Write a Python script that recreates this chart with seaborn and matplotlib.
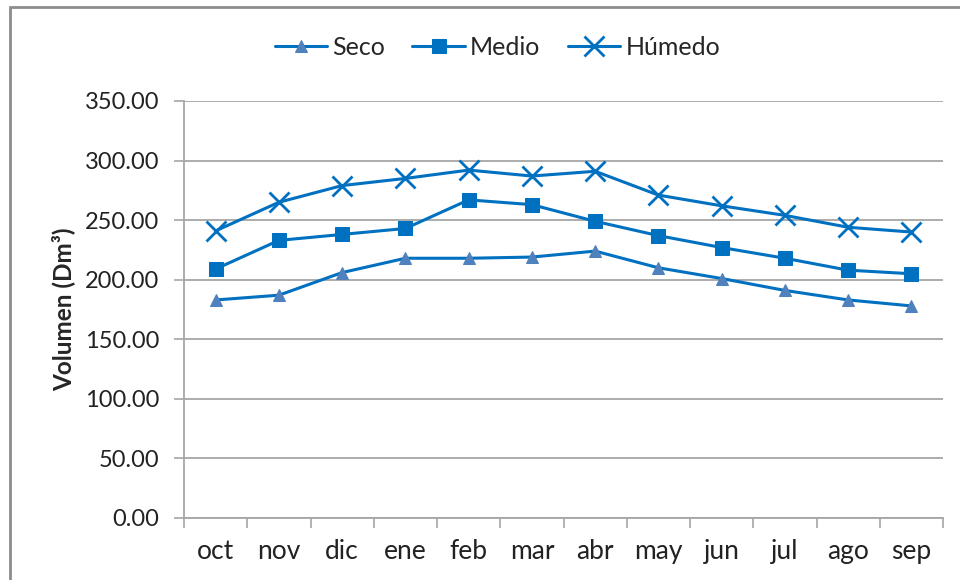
import pandas as pd
import matplotlib.pyplot as plt
import seaborn as sns
from matplotlib.patches import Rectangle
from matplotlib.ticker import FixedLocator

# Monthly volume by hydrological year type
months = ["oct", "nov", "dic", "ene", "feb", "mar", "abr", "may", "jun", "jul", "ago", "sep"]
seco = [183, 187, 206, 218, 218, 219, 224, 210, 201, 191, 183, 178]
medio = [209, 233, 238, 243, 267, 263, 249, 237, 227, 218, 208, 205]
humedo = [241, 265, 279, 285, 292, 287, 291, 271, 262, 254, 244, 240]

df = pd.DataFrame({"mes": months, "Seco": seco, "Medio": medio, "Húmedo": humedo})

sns.set_style("white")
plt.rcParams["font.family"] = ["Lato", "DejaVu Sans"]

fig = plt.figure(figsize=(9.6, 5.8), dpi=100)
ax = fig.add_axes([0.1917, 0.1069, 0.7906, 0.719])

line_color = "#0070C0"
styles = {
    "Seco": dict(marker="^", markersize=8, markerfacecolor="#4F81BD", markeredgecolor="#4F81BD"),
    "Medio": dict(marker="s", markersize=10, markerfacecolor=line_color, markeredgecolor=line_color),
    "Húmedo": dict(marker="x", markersize=14, markeredgecolor=line_color, markeredgewidth=2),
}
for name in ["Seco", "Medio", "Húmedo"]:
    sns.lineplot(data=df, x="mes", y=name, color=line_color, linewidth=2.2,
                 sort=False, label=name, ax=ax, legend=False, **styles[name])

ax.set_xlim(-0.5, len(months) - 0.5)
ax.set_ylim(0, 350)
ax.set_yticks(range(0, 351, 50))
ax.set_yticklabels([f"{v:.2f}" for v in range(0, 351, 50)])
ax.yaxis.grid(True, color="#A6A6A6", linewidth=1.3)
ax.set_axisbelow(True)

ax.xaxis.set_minor_locator(FixedLocator([i - 0.5 for i in range(len(months) + 1)]))
ax.tick_params(axis="both", direction="out")
ax.tick_params(axis="x", which="major", length=0, pad=15, labelsize=19, colors="#222222")
ax.tick_params(axis="x", which="minor", length=7, width=1.2, color="#A6A6A6", bottom=True)
ax.tick_params(axis="y", length=7, width=1.2, color="#A6A6A6", pad=11,
               labelsize=17, labelcolor="#222222", left=True)

for side in ["top", "right"]:
    ax.spines[side].set_visible(False)
for side in ["left", "bottom"]:
    ax.spines[side].set_color("#A6A6A6")
    ax.spines[side].set_linewidth(1.3)

ax.set_xlabel("")
ax.set_ylabel("Volumen (Dm³)", fontsize=17.5, fontweight="bold", labelpad=7)

handles = ax.lines[:3]
fig.legend(handles, ["Seco", "Medio", "Húmedo"], loc="center",
           bbox_to_anchor=(0.518, 0.918), ncol=3, frameon=False,
           fontsize=18, handlelength=2.1, columnspacing=1.1, handletextpad=0.2)

fig.patches.append(Rectangle((0.0104, -0.05), 1.1, 1.038, transform=fig.transFigure,
                             fill=False, edgecolor="#8C8C8C", linewidth=2))

fig.savefig("out.png", dpi=100)
